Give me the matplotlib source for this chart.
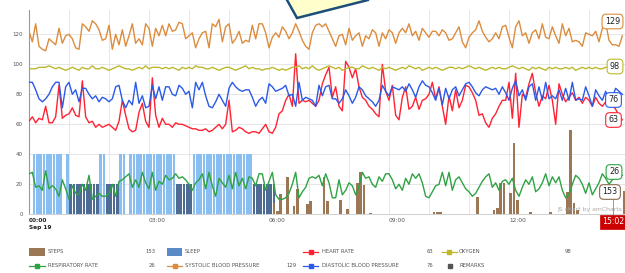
import numpy as np
import matplotlib
matplotlib.use("Agg")
import matplotlib.pyplot as plt
from matplotlib.patches import Polygon, Rectangle
from matplotlib.lines import Line2D

# ---------------- data (5-minute samples from 00:00, Sep 19) ----------------
systolic = [122,115,127,112,110,109,117,115,113,124,114,119,120,117,111,110,127,125,122,129,
            127,123,116,117,126,110,120,113,123,112,119,127,114,117,113,127,124,112,124,119,
            126,119,127,122,123,128,127,117,119,121,111,117,121,122,111,127,125,130,115,125,
            127,114,117,122,114,116,115,126,117,127,127,121,111,118,121,118,125,122,117,121,127,
            122,116,112,110,121,126,127,125,127,122,117,112,119,120,113,124,116,119,121,112,
            119,117,123,121,112,121,117,123,121,114,121,124,121,127,119,122,116,124,121,118,
            122,122,119,123,121,116,117,121,125,115,111,118,121,123,129,122,118,115,117,121,
            117,125,126,118,111,125,129,119,121,114,121,123,117,127,118,117,125,119,114,127,
            119,124,115,116,115,112,121,120,119,122,115,124,128,116,113,113,112,119]
oxygen = [97,97,97,98,98,98,99,98,97,98,97,96,97,98,97,96,98,97,97,99,97,97,98,97,96,97,98,99,98,97,
          97,96,97,98,97,99,97,98,98,98,97,98,97,98,97,96,98,97,98,97,99,98,98,97,97,98,97,96,97,98,
          98,97,96,97,98,99,97,98,97,97,96,97,97,98,97,96,97,96,97,98,98,99,97,98,97,99,97,96,97,98,
          99,98,97,98,96,97,98,98,97,97,99,98,97,98,97,96,98,97,98,97,96,97,98,97,99,98,97,98,96,97,
          98,97,98,97,96,97,98,98,97,98,97,98,99,98,97,98,97,96,97,98,97,98,97,97,98,99,98,97,98,97,
          96,98,97,98,97,96,98,97,98,97,97,98,97,98,96,97,98,97,98,97,98,97,97,98,98,98,97,98,98]
diastolic = [88,88,83,77,75,77,80,85,88,88,71,85,88,80,83,75,84,84,80,77,79,75,78,77,75,77,85,86,76,71,
             76,73,88,74,79,71,72,86,77,85,76,85,85,80,79,86,84,80,82,71,88,83,88,79,72,71,75,80,76,72,
             84,88,85,83,82,83,83,78,72,76,78,74,87,85,82,83,84,86,79,80,72,88,76,78,77,76,72,86,
             79,85,86,77,77,74,77,83,79,74,78,85,83,79,77,75,72,76,86,82,79,85,84,83,85,82,87,83,78,85,
             89,86,85,81,76,84,73,84,77,83,85,79,83,87,88,85,81,79,83,85,84,83,84,80,85,81,76,84,89,79,
             83,76,85,87,76,85,76,88,77,79,77,83,76,84,76,88,76,77,76,85,79,72,83,79,76,82,76,78,84,82,80]
heart_rate = [62,65,61,64,63,72,61,61,65,86,64,66,67,71,66,65,89,65,61,62,58,60,58,59,60,58,56,62,76,66,
              57,55,56,68,74,62,58,91,66,58,64,60,60,58,61,60,60,59,58,57,57,56,56,57,55,56,58,60,57,60,
              76,55,56,58,57,55,54,55,55,54,57,60,55,54,58,67,69,76,80,72,107,
              74,76,75,76,74,72,76,87,93,98,78,85,72,69,102,98,91,97,85,78,76,72,70,67,65,100,82,76,86,66,
              63,78,85,70,72,78,70,76,77,80,88,77,85,72,60,79,69,83,71,76,86,85,81,76,66,67,61,58,64,67,
              72,76,76,88,64,94,58,80,78,87,94,81,72,79,77,86,76,60,87,80,75,78,81,76,78,74,78,76,72,78,
              74,72,75,78,73,70,66,63]
respiratory = [27,28,18,19,16,29,17,19,17,12,23,17,10,19,14,13,20,16,26,10,12,14,12,12,14,20,12,22,23,25,
               27,18,23,18,28,21,17,28,16,22,20,26,23,24,27,24,25,23,20,16,21,23,27,17,28,19,12,24,21,18,
               26,17,28,19,24,17,25,24,19,27,27,16,22,28,13,10,10,11,14,20,28,11,15,18,24,25,24,26,
               19,27,21,11,11,23,13,16,21,19,13,19,28,24,25,20,18,25,22,27,27,23,17,20,16,24,20,27,24,27,
               21,12,11,15,19,20,28,19,28,16,23,25,21,17,15,12,14,18,22,25,27,18,21,16,22,23,20,24,16,12,
               18,23,20,25,15,17,21,27,19,25,21,25,16,11,13,20,26,24,20,14,21,13,17,21,27,24,20,23,25,27,26]
# sleep per 5-minute slot: 40 = light sleep, 20 = deep sleep, 0 = awake
sleep = [0,40,40,40,40,40,40,40,40,40,0,40,20,20,20,20,20,20,20,20,20,40,40,20,20,20,20,40,40,0,
         40,40,40,40,40,40,40,40,40,40,40,40,40,40,20,20,20,20,20,40,40,40,40,40,40,40,40,40,40,40,
         40,40,40,40,40,40,40,20,20,20,20,20,20,20]
steps_time = ["06:05","06:10","06:15","06:25","06:35","06:40","06:55","07:00","07:20","07:25","07:45",
              "07:55","08:10","08:15","08:20","08:30","10:05","10:10","10:15","11:10","11:35","11:40",
              "11:45","11:50","12:00","12:05","12:10","12:30","13:00","13:25","13:30","13:35","13:40","14:50"]
steps_count = [73,22,133,250,56,169,69,89,250,89,95,33,206,284,195,11,18,18,18,118,29,44,206,206,
               140,473,95,15,15,150,562,73,30,153]
x_tick_labels = ["00:00\nSep 19", "03:00", "06:00", "09:00", "12:00"]
y_ticks = [0, 20, 40, 60, 80, 100, 120]
current = {"STEPS": 153, "HEART RATE": 63, "OXYGEN": 98, "RESPIRATORY RATE": 26,
           "SYSTOLIC BLOOD PRESSURE": 129, "DIASTOLIC BLOOD PRESSURE": 76}
cursor_label = "15:02"

# ---------------- styling ----------------
C_SYS = '#dc8c3c'
C_OXY = '#bdb82e'
C_DIA = '#2b5ae8'
C_HR = '#ff2233'
C_RR = '#2fa344'
C_STEPS = '#9c7756'
C_SLEEP_L = '#88bef2'
C_SLEEP_D = '#4d6b93'
C_SLEEP_LEG = '#5b8bc6'
SLOT = 5 / 60.0
BAR_W = SLOT * 0.78

W, H = 625, 273
fig = plt.figure(figsize=(W / 100, H / 100), dpi=100)
fig.patch.set_facecolor('white')

def fx(x):
    return x / W

def fy(y):
    return 1 - y / H

L, R, T, B = 29, 625, 10, 214.3
rect = [L / W, 1 - B / H, (R - L) / W, (B - T) / H]
ax = fig.add_axes(rect)
XMAX = (R - L) / 40.0
YMAX = (B - T) / 1.5
ax.set_xlim(0, XMAX)
ax.set_ylim(0, YMAX)

# grid / axes
ax.set_xticks([0, 3, 6, 9, 12])
ax.set_xticks(np.arange(0, 15), minor=True)
ax.set_yticks(y_ticks)
ax.grid(True, which='both', color='#e6e6e6', lw=0.7)
ax.set_axisbelow(True)
for s in ['top', 'right']:
    ax.spines[s].set_visible(False)
ax.spines['left'].set_color('#999999')
ax.spines['left'].set_linewidth(0.8)
ax.spines['bottom'].set_color('#d0d0d0')
ax.spines['bottom'].set_linewidth(0.7)
ax.tick_params(axis='both', which='both', length=0)
ax.tick_params(axis='y', pad=4.5, labelsize=4.0, labelcolor='#555555')
ax.tick_params(axis='x', pad=3, labelsize=4.2, labelcolor='#555555')
ax.set_yticklabels([str(v) for v in y_ticks])
labs = ax.set_xticklabels(x_tick_labels, ha='left')
labs[0].set_fontweight('bold')
labs[0].set_color('#222222')
labs[0].set_linespacing(1.3)

# sleep bars (bottom axes)
sleep_t = np.arange(len(sleep)) * SLOT
sleep_colors = [C_SLEEP_L if v >= 40 else C_SLEEP_D for v in sleep]
ax.bar(sleep_t + SLOT * 0.5, sleep, width=BAR_W, color=sleep_colors, linewidth=0)

# steps on their own hidden value axis
axs = fig.add_axes(rect, sharex=ax)
axs.axis('off')
axs.set_ylim(0, YMAX * 10)
st = np.array([int(s[:2]) + int(s[3:]) / 60.0 for s in steps_time])
axs.bar(st + SLOT * 0.5, steps_count, width=BAR_W, color=C_STEPS, linewidth=0)

# lines
axl = fig.add_axes(rect, sharex=ax)
axl.axis('off')
axl.set_ylim(0, YMAX)
axl.set_xlim(0, XMAX)

def tt(series):
    return np.arange(len(series)) * SLOT

LW = 1.0
axl.plot(tt(heart_rate), heart_rate, color=C_HR, lw=LW)
axl.plot(tt(oxygen), oxygen, color=C_OXY, lw=LW)
axl.plot(tt(respiratory), respiratory, color=C_RR, lw=LW)
axl.plot(tt(systolic), systolic, color=C_SYS, lw=LW)
axl.plot(tt(diastolic), diastolic, color=C_DIA, lw=LW)

# amCharts credit
fig.text(fx(557), fy(209), 'JS chart by amCharts', fontsize=4.4, color='#aaaaaa',
         ha='left', va='center')

# cursor line and value balloons
fig.add_artist(Line2D([fx(613), fx(613)], [fy(199), fy(216)], color='#888888', lw=0.6,
                      transform=fig.transFigure))
balloons = [("SYSTOLIC BLOOD PRESSURE", 612.5, 21.5, C_SYS),
            ("OXYGEN", 615, 66.5, C_OXY),
            ("DIASTOLIC BLOOD PRESSURE", 613.5, 100, C_DIA),
            ("HEART RATE", 613.5, 120, C_HR),
            ("RESPIRATORY RATE", 614, 172, C_RR),
            ("STEPS", 610, 192, '#8b6a4e')]
for key, cx, cy, col in balloons:
    fig.text(fx(cx), fy(cy), str(current[key]), fontsize=5.8, color='#222222',
             ha='center', va='center',
             bbox=dict(boxstyle='round,pad=0.35,rounding_size=0.5', fc='white', ec=col, lw=0.8))
fig.text(fx(613.5), fy(222), cursor_label, fontsize=5.6, color='white', ha='center', va='center',
         bbox=dict(boxstyle='square,pad=0.3', fc='#cc0000', ec='#cc0000', lw=0.5))

# callout shape at the top
fig.add_artist(Polygon([[fx(297), fy(18)], [fx(368), fy(0)], [fx(372), fy(-25)],
                        [fx(276), fy(-25)], [fx(287), fy(0)]], closed=True,
                       transform=fig.transFigure, fc='#ffffcc', ec='#1d4e7a', lw=1.8,
                       clip_on=False, zorder=10))

# legend
LEG_FS = 3.8
LEG_COL = '#555555'

def leg_text(x, y, s, ha='left'):
    fig.text(fx(x), fy(y), s, fontsize=LEG_FS, color=LEG_COL, ha=ha, va='center')

def leg_patch(x0, x1, y, col):
    fig.add_artist(Rectangle((fx(x0), fy(y + 3.8)), (x1 - x0) / W, 7.6 / H,
                             transform=fig.transFigure, fc=col, ec='none'))

def leg_line(x0, x1, y, col):
    fig.add_artist(Line2D([fx(x0), fx(x1)], [fy(y), fy(y)], color=col, lw=0.9,
                          transform=fig.transFigure))
    fig.add_artist(Line2D([fx((x0 + x1) / 2)], [fy(y)], color=col, marker='s',
                          markersize=2.3, lw=0, transform=fig.transFigure))

r1, r2 = 251.7, 265.7
leg_patch(29, 45, r1, C_STEPS)
leg_text(48, r1, "STEPS")
leg_text(155, r1, str(current["STEPS"]), ha='right')
leg_patch(167, 182, r1, C_SLEEP_LEG)
leg_text(185, r1, "SLEEP")
leg_line(303, 318, r1, C_HR)
leg_text(322, r1, "HEART RATE")
leg_text(433, r1, str(current["HEART RATE"]), ha='right')
leg_line(442, 457, r1, C_OXY)
leg_text(459, r1, "OXYGEN")
leg_text(571, r1, str(current["OXYGEN"]), ha='right')

leg_line(29, 45, r2, C_RR)
leg_text(48, r2, "RESPIRATORY RATE")
leg_text(155, r2, str(current["RESPIRATORY RATE"]), ha='right')
leg_line(167, 182, r2, C_SYS)
leg_text(185, r2, "SYSTOLIC BLOOD PRESSURE")
leg_text(297, r2, str(current["SYSTOLIC BLOOD PRESSURE"]), ha='right')
leg_line(303, 318, r2, C_DIA)
leg_text(322, r2, "DIASTOLIC BLOOD PRESSURE")
leg_text(433, r2, str(current["DIASTOLIC BLOOD PRESSURE"]), ha='right')
fig.add_artist(Line2D([fx(450)], [fy(r2)], color='#555555', marker='s', markersize=2.3, lw=0,
                      transform=fig.transFigure))
leg_text(459, r2, "REMARKS")

fig.savefig('out.png', dpi=100, facecolor='white')
